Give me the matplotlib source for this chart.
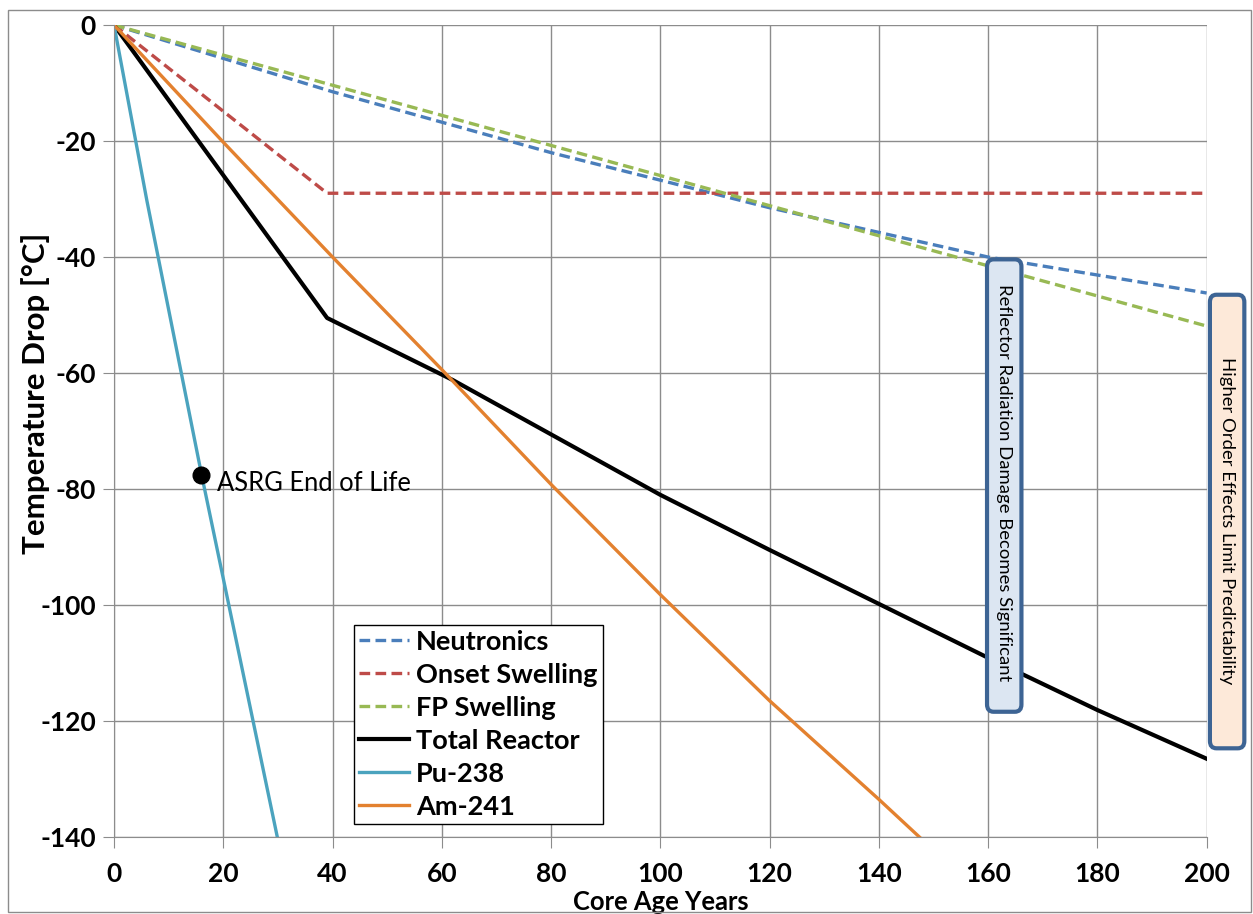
import matplotlib.pyplot as plt
from matplotlib.patches import FancyBboxPatch, Rectangle

plt.rcParams["font.family"] = ["Lato", "DejaVu Sans"]
plt.rcParams["font.size"] = 16
plt.rcParams["axes.unicode_minus"] = False

# core age [years] vs. temperature drop [°C]
neut_x = [0, 40, 80, 120, 160, 200]
neut_y = [0, -11.5, -22, -31.5, -40, -46.2]

onset_x = [0, 39, 200]
onset_y = [0, -29, -29]

fp_x = [0, 200]
fp_y = [0, -51.9]

total_x = [0, 39, 62, 100, 120, 160, 180, 200]
total_y = [0, -50.5, -61.2, -81, -90.5, -109.1, -118.1, -126.5]

pu_x = [0, 6, 16, 30]
pu_y = [0, -30.2, -77.4, -140.5]

am_x = [0, 20, 40, 60, 80, 100, 120, 140, 148]
am_y = [0, -20.2, -40, -59.4, -79.2, -98.2, -116.5, -133.5, -140.5]

asrg_x = 16
asrg_y = -77.5

fig = plt.figure(figsize=(12.53, 9.14), dpi=100)
ax = fig.add_axes([0.091, 0.0842, 0.872, 0.8884])

dash = (3.2, 1.6)
ax.plot(neut_x, neut_y, color="#4A7EBB", lw=2.4, ls=(0, dash), label="Neutronics")
ax.plot(onset_x, onset_y, color="#BE4B48", lw=2.4, ls=(0, dash), label="Onset Swelling")
ax.plot(fp_x, fp_y, color="#98B954", lw=2.4, ls=(0, dash), label="FP Swelling")
ax.plot(total_x, total_y, color="black", lw=3, label="Total Reactor")
ax.plot(pu_x, pu_y, color="#4BA3BE", lw=2.4, label="Pu-238")
ax.plot(am_x, am_y, color="#E3812F", lw=2.4, label="Am-241")

ax.plot([asrg_x], [asrg_y], "o", color="black", ms=12, zorder=5)
ax.text(18.8, -79, "ASRG End of Life", fontsize=18.4, va="center", ha="left")

ax.set_xlim(0, 200)
ax.set_ylim(-140, 0)
ax.set_xticks(range(0, 201, 20))
ax.set_yticks(range(-140, 1, 20))
ax.grid(True, color="#8c8c8c", lw=1)
ax.set_axisbelow(True)
for s in ["top", "right"]:
    ax.spines[s].set_visible(False)
for s in ["left", "bottom"]:
    ax.spines[s].set_color("#8c8c8c")
ax.tick_params(length=8, color="#8c8c8c", labelsize=19)
ax.tick_params(axis="x", pad=10)
ax.tick_params(axis="y", pad=5)
for lab in ax.get_xticklabels() + ax.get_yticklabels():
    lab.set_fontweight("bold")

ax.set_xlabel("Core Age Years", fontsize=18.4, fontweight="bold", labelpad=3)
ax.set_ylabel("Temperature Drop [°C]", fontsize=22.5, fontweight="bold")
ax.yaxis.set_label_coords(-0.059, 0.547)

leg = ax.legend(loc="lower left", bbox_to_anchor=(0.2196, 0.016), borderaxespad=0,
                fancybox=False, edgecolor="black", framealpha=1, handlelength=1.85,
                handletextpad=0.25, labelspacing=0.33, borderpad=0.2,
                prop={"weight": "bold", "size": 19.5})
leg.get_frame().set_linewidth(1)

# callout boxes
edge = "#3D6494"
box1 = FancyBboxPatch((159.8, -118.4), 6.3, 78.0, boxstyle="round,pad=0,rounding_size=1.2",
                      fc="#DCE6F2", ec=edge, lw=3, clip_on=False, zorder=6,
                      mutation_aspect=1.06)
ax.add_patch(box1)
ax.text(162.95, -78.9, "Reflector Radiation Damage Becomes Significant", rotation=-90,
        ha="center", va="center", fontsize=13.3, zorder=7)

box2 = FancyBboxPatch((200.6, -124.7), 6.3, 78.2, boxstyle="round,pad=0,rounding_size=1.2",
                      fc="#FDE9D9", ec=edge, lw=3, clip_on=False, zorder=6,
                      mutation_aspect=1.06)
ax.add_patch(box2)
ax.text(203.75, -85.5, "Higher Order Effects Limit Predictability", rotation=-90,
        ha="center", va="center", fontsize=13.3, zorder=7)

# outer frame
fig.patches.append(Rectangle((8 / 1253, 2 / 914), 1243 / 1253, 902 / 914, transform=fig.transFigure,
                             fill=False, ec="#8c8c8c", lw=1))

fig.savefig("out.png", dpi=100)
